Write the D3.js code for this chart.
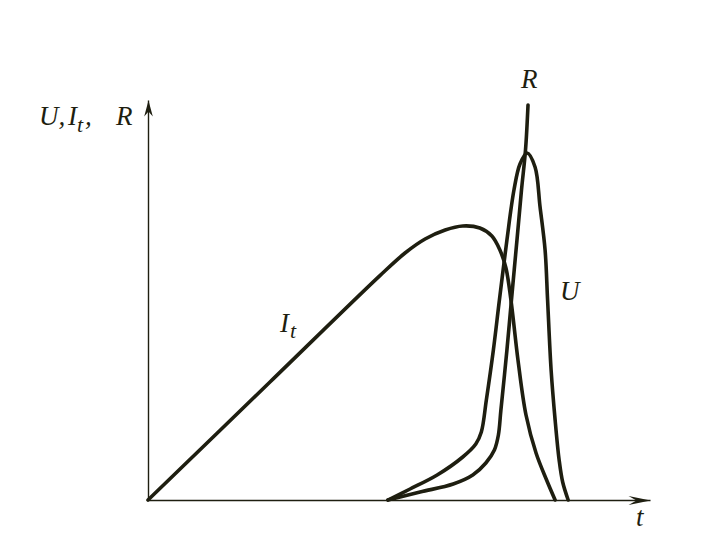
<!DOCTYPE html>
<html>
<head>
<meta charset="utf-8">
<script src="https://cdn.jsdelivr.net/npm/d3@7"></script>
<style>
  html, body { margin: 0; padding: 0; background: #fff; }
</style>
</head>
<body>
<svg id="chart" width="710" height="540"></svg>
<script>
'use strict'

// current curve I_t (t, value)
var currentT = [0, 24.3, 46.2, 51.2, 55.2, 59.2, 62.7, 66.1, 68.5, 70.1, 71.3, 72.3, 73.7, 75.3, 77.3, 79.4, 81.1]
var currentV = [0, 29.5, 56.1, 61.75, 65.25, 67.5, 68.5, 68, 66, 62.5, 58, 50, 35, 21.25, 11.75, 5, 0]

// voltage U
var voltageT = [47.8, 52.2, 57.6, 62.7, 65.3, 66.4, 67.4, 68.8, 70.0, 71.5, 72.9, 74.1, 75.5, 77.1, 78.1, 79.1, 79.6, 80.3, 81.1, 81.9, 82.6, 83.7]
var voltageV = [0, 2.75, 6.25, 10.75, 14, 17, 25, 37.5, 50, 65, 77.5, 84, 86.75, 83.25, 73.25, 62.5, 50, 32.5, 20, 10, 4.5, 0]

// resistance R
var resistT = [47.8, 54.2, 60.8, 64.7, 67.3, 69.0, 69.8, 70.3, 71.5, 72.4, 73.5, 74.4, 75.2, 75.7]
var resistV = [0, 2, 4, 6.25, 9.25, 12.5, 16.25, 22.5, 37.5, 50, 65, 77.5, 87.5, 98.75]

var ink = '#1e1e10'
var serif = 'Liberation Serif, Times New Roman, Times, serif'
var svg = d3.select('#chart')

var x = d3.scaleLinear().domain([0, 100]).range([148, 650])
var y = d3.scaleLinear().domain([0, 100]).range([500, 100])

var defs = svg.append('defs')
defs.append('marker')
  .attr('id', 'arrowX')
  .attr('markerUnits', 'userSpaceOnUse')
  .attr('viewBox', '-24 -6 26 12')
  .attr('markerWidth', 26).attr('markerHeight', 12)
  .attr('refX', 0).attr('refY', 0)
  .attr('orient', 'auto')
  .append('path')
    .attr('d', 'M0,0L-22,-4.5L-14,0L-22,4.5Z')
    .attr('fill', ink)
defs.append('marker')
  .attr('id', 'arrowY')
  .attr('markerUnits', 'userSpaceOnUse')
  .attr('viewBox', '-18 -6 20 12')
  .attr('markerWidth', 20).attr('markerHeight', 12)
  .attr('refX', 0).attr('refY', 0)
  .attr('orient', 'auto')
  .append('path')
    .attr('d', 'M0,0L-16,-4.3L-11,0L-16,4.3Z')
    .attr('fill', ink)

var xAxis = svg.append('g')
  .attr('transform', 'translate(0,' + y(0) + ')')
  .call(d3.axisBottom(x).tickValues([]).tickSizeOuter(0))
var yAxis = svg.append('g')
  .attr('transform', 'translate(' + x(0) + ',0)')
  .call(d3.axisLeft(y).tickValues([]).tickSizeOuter(0))

xAxis.select('.domain').attr('stroke', ink).attr('stroke-width', 1.4).attr('marker-end', 'url(#arrowX)')
yAxis.select('.domain').attr('stroke', ink).attr('stroke-width', 1.4).attr('marker-end', 'url(#arrowY)')

var line = d3.line()
  .x((d) => x(d[0]))
  .y((d) => y(d[1]))
  .curve(d3.curveCatmullRom.alpha(0.5))

var series = [
  d3.zip(currentT, currentV),
  d3.zip(voltageT, voltageV),
  d3.zip(resistT, resistV)
]

svg.append('g')
  .selectAll('path')
  .data(series)
  .enter().append('path')
    .attr('d', line)
    .attr('fill', 'none')
    .attr('stroke', ink)
    .attr('stroke-width', 3.6)
    .attr('stroke-linejoin', 'round')
    .attr('stroke-linecap', 'round')

function label (px, py) {
  return svg.append('text')
    .attr('x', px).attr('y', py)
    .attr('font-family', serif)
    .attr('font-style', 'italic')
    .attr('font-size', 27)
    .attr('fill', ink)
}

// axis title U, I_t, R
var title = label(39, 125)
title.append('tspan').attr('x', 39).text('U,')
title.append('tspan').attr('x', 68).text('I')
title.append('tspan').attr('x', 77).attr('y', 132).attr('font-size', 22).text('t')
title.append('tspan').attr('x', 85).attr('y', 125).text(',')
title.append('tspan').attr('x', 116).text('R')

label(636, 526).text('t')
label(521, 88).text('R')
label(560, 300).text('U')

var itLabel = label(280, 332)
itLabel.append('tspan').text('I')
itLabel.append('tspan').attr('x', 290).attr('y', 338).attr('font-size', 22).text('t')
</script>
</body>
</html>
